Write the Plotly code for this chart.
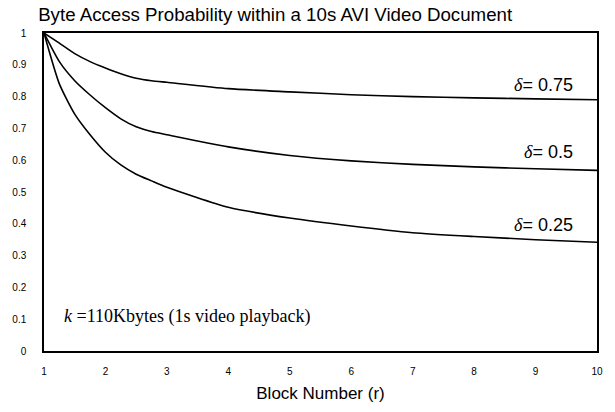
import plotly.graph_objects as go

# block number (r) and byte access probability for each delta
block = [1, 1.25, 1.5, 1.75, 2, 2.25, 2.5, 2.75, 3, 4, 5, 6, 7, 8, 9, 10]
p_075 = [1.0, 0.968, 0.935, 0.91, 0.89, 0.872, 0.858, 0.85, 0.845, 0.825, 0.815, 0.806, 0.80, 0.796, 0.793, 0.79]
p_050 = [1.0, 0.91, 0.85, 0.805, 0.765, 0.73, 0.705, 0.69, 0.68, 0.642, 0.615, 0.598, 0.587, 0.579, 0.573, 0.568]
p_025 = [1.0, 0.84, 0.745, 0.68, 0.625, 0.585, 0.556, 0.535, 0.515, 0.452, 0.418, 0.393, 0.372, 0.36, 0.35, 0.342]

labels = ["= 0.75", "= 0.5", "= 0.25"]
label_y = [0.835, 0.625, 0.397]

fig = go.Figure()
for ys in [p_075, p_050, p_025]:
    fig.add_trace(go.Scatter(x=block, y=ys, mode="lines", line=dict(color="black", width=1.6, shape="spline", smoothing=0.6),
                             showlegend=False, hoverinfo="skip"))

for lab, ly in zip(labels, label_y):
    fig.add_annotation(x=9.65, y=ly, xanchor="right", yanchor="middle", showarrow=False,
                       text="<i><span style='font-family:Liberation Serif'>δ</span></i>" + lab,
                       font=dict(family="Liberation Sans, Arial", size=18, color="black"))

fig.add_annotation(x=1.29, y=0.11, xanchor="left", yanchor="middle", showarrow=False,
                   text="<i>k</i> =110Kbytes (1s video playback)",
                   font=dict(family="Liberation Serif, Times New Roman", size=18, color="black"))

fig.update_layout(
    width=615, height=412,
    margin=dict(l=40, r=16, t=33, b=54),
    paper_bgcolor="white", plot_bgcolor="white",
    title=dict(text="Byte Access Probability within a 10s AVI Video Document", x=0.062, xanchor="left",
               y=0.965, yanchor="middle", font=dict(family="Liberation Sans, Arial", size=18.7, color="black")),
    font=dict(family="Liberation Sans, Arial", color="black"),
)
fig.update_xaxes(range=[1, 10], tickvals=list(range(1, 11)), showgrid=False, zeroline=False,
                 showline=True, linecolor="black", linewidth=1.5, mirror=True, ticks="",
                 tickfont=dict(size=10), ticklabelstandoff=10,
                 title=dict(text="Block Number (r)", font=dict(size=17), standoff=11))
fig.update_yaxes(range=[0, 1], tickvals=[i / 10 for i in range(11)],
                 ticktext=["0", "0.1", "0.2", "0.3", "0.4", "0.5", "0.6", "0.7", "0.8", "0.9", "1"],
                 showgrid=False, zeroline=False, showline=True, linecolor="black", linewidth=1.5,
                 mirror=True, ticks="", tickfont=dict(size=10), ticklabelstandoff=14)

fig.write_html("out.html", config={"displayModeBar": False},
               post_script="document.body.style.margin='0';")
